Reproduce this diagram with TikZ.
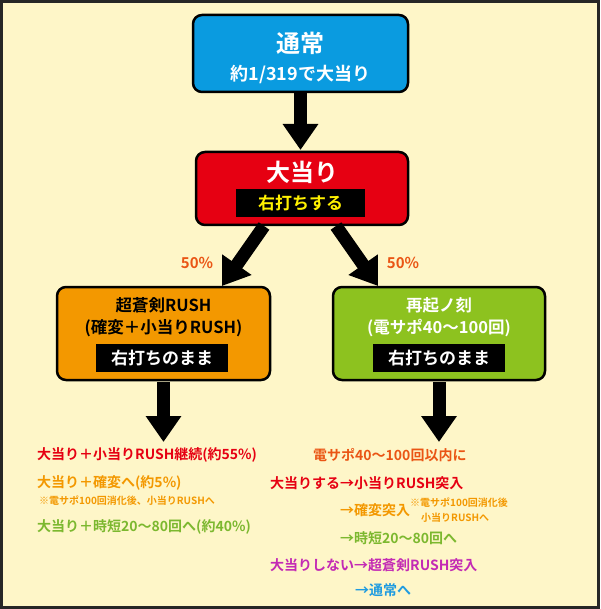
\documentclass[tikz,border=0pt]{standalone}
\usepackage{fontspec}
\setmainfont{Noto Sans CJK JP}[BoldFont={Noto Sans CJK JP Bold}]
\usetikzlibrary{arrows.meta}
\definecolor{bg}{HTML}{FEF6C8}
\definecolor{cblue}{HTML}{0A9BE0}
\definecolor{cred}{HTML}{E60012}
\definecolor{corange}{HTML}{F39800}
\definecolor{cgreen}{HTML}{8DC21F}
\definecolor{tred}{HTML}{E60012}
\definecolor{torange}{HTML}{F39800}
\definecolor{tgreen}{HTML}{7CB82F}
\definecolor{tor2}{HTML}{EA5514}
\definecolor{tmag}{HTML}{C32AB4}
\definecolor{tblue}{HTML}{1E9BE0}
\definecolor{cyel}{HTML}{FFF100}
\begin{document}
\begin{tikzpicture}[x=1pt,y=-1pt,font=\bfseries,
 box/.style={draw=black,line width=2.5pt,rounded corners=9pt,minimum height=0pt},
 lab/.style={fill=black,inner sep=0pt,minimum height=28pt},
 arr/.style={line width=13pt,-{Triangle[width=34pt,length=26pt]}},
 t/.style={anchor=west,inner sep=0pt,font=\bfseries\fontsize{14}{15}\selectfont},
 s/.style={anchor=west,inner sep=0pt,font=\bfseries\fontsize{10}{11}\selectfont}]
\fill[bg] (0,0) rectangle (600,609);
\draw[line width=3pt,black!85] (1.5,1.5) rectangle (598.5,607.5);
% boxes
\draw[box,fill=cblue] (193,15) rectangle (408,92);
\node[text=white,font=\bfseries\fontsize{24}{25}\selectfont] (t1) at (300.5,43) {通常};
\node[text=white,font=\bfseries\fontsize{18}{19}\selectfont] (t1b) at (300.5,74) {約1/319で大当り};
\draw[box,fill=cred] (196,152) rectangle (408,225);
\node[text=white,font=\bfseries\fontsize{24}{25}\selectfont] (t2) at (302,172) {大当り};
\node[lab,minimum width=129pt,text=cyel,font=\bfseries\fontsize{17}{18}\selectfont] (l2) at (300.5,203.5) {右打ちする};
\draw[box,fill=corange] (57,287) rectangle (270,380);
\node[font=\bfseries\fontsize{16.5}{17}\selectfont] (t3) at (163.5,305) {超蒼剣RUSH};
\node[font=\bfseries\fontsize{16.5}{17}\selectfont] (t3b) at (163.5,328) {(確変＋小当りRUSH)};
\node[lab,minimum width=132pt,text=white,font=\bfseries\fontsize{17}{18}\selectfont] (l3) at (162,358) {右打ちのまま};
\draw[box,fill=cgreen] (333,287) rectangle (545,380);
\node[text=white,font=\bfseries\fontsize{16.5}{17}\selectfont] (t4) at (439,305) {再起ノ刻};
\node[text=white,font=\bfseries\fontsize{16.5}{17}\selectfont] (t4b) at (439,328) {(電サポ40～100回)};
\node[lab,minimum width=132pt,text=white,font=\bfseries\fontsize{17}{18}\selectfont] (l4) at (439,358) {右打ちのまま};
% arrows
\coordinate (a1s) at (300.5,93); \coordinate (a1e) at (300.5,150);
\coordinate (a2s) at (264,226); \coordinate (a2e) at (222,286);
\coordinate (a3s) at (336,226); \coordinate (a3e) at (378,286);
\coordinate (a4s) at (163.5,382); \coordinate (a4e) at (163.5,442);
\coordinate (a5s) at (439,382); \coordinate (a5e) at (439,442);
\foreach \a in {1,...,5} \draw[arr] (a\a s) -- (a\a e);
\node[text=tor2,font=\bfseries\fontsize{15}{16}\selectfont] (p1) at (197,263) {50\%};
\node[text=tor2,font=\bfseries\fontsize{15}{16}\selectfont] (p2) at (403,263) {50\%};
% left texts
\node[t,text=tred] (L1) at (37,455) {大当り＋小当りRUSH継続(約55\%)};
\node[t,text=torange] (L2) at (37,483) {大当り＋確変へ(約5\%)};
\node[s,text=torange] (L3) at (39,501) {※電サポ100回消化後、小当りRUSHへ};
\node[t,text=tgreen] (L4) at (37,527) {大当り＋時短20～80回へ(約40\%)};
% right texts
\node[t,text=tor2] (R1) at (313,455) {電サポ40～100回以内に};
\node[t,text=tred] (R2) at (270,483) {大当りする→小当りRUSH突入};
\node[t,text=torange] (R3) at (340,510) {→確変突入};
\node[s,text=torange] (R3a) at (410,503) {※電サポ100回消化後};
\node[s,text=torange] (R3b) at (421,518) {小当りRUSHへ};
\node[t,text=tgreen] (R4) at (340,538) {→時短20～80回へ};
\node[t,text=tmag] (R5) at (270,565) {大当りしない→超蒼剣RUSH突入};
\node[t,text=tblue] (R6) at (355,590) {→通常へ};
\end{tikzpicture}
\end{document}
